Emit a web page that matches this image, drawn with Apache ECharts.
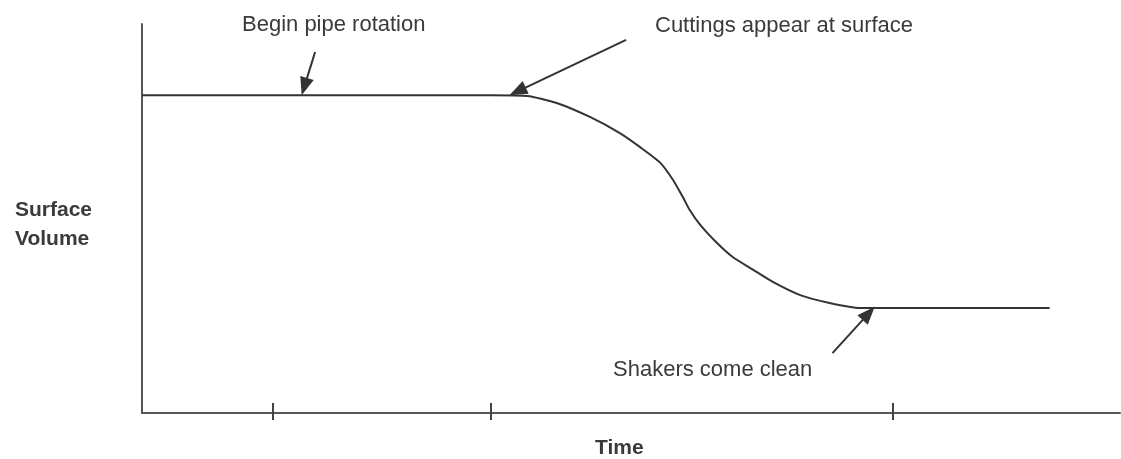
<!DOCTYPE html>
<html>
<head>
<meta charset="utf-8">
<style>
	html, body { margin: 0; padding: 0; background: #fff; }
	#chart { width: 1121px; height: 459px; }
</style>
<script src="https://cdn.jsdelivr.net/npm/echarts@6/dist/echarts.min.js"></script>
</head>
<body>
<div id="chart"></div>
<script>
//	曲线数据 (time, surface volume)
var timeX = [0, 16.2, 35.6, 39.4, 42.4, 45.8, 48.9, 50.9, 53.0, 54.3, 55.3, 56.0, 57.1, 58.8, 60.4, 62.5, 64.5, 67.3, 70.3, 73.4, 75.5, 92.8];
var volumeY = [81.7, 81.7, 81.7, 81.5, 79.7, 76.1, 71.9, 68.4, 64.3, 59.9, 55.5, 52.2, 48.3, 43.7, 40.1, 36.8, 33.7, 30.3, 28.3, 27.0, 27.0, 27.0];
//	x轴刻度
var tickValues = [13.4, 35.7, 76.8];
//	箭头 [起点, 箭头中心]
var arrowFrom = [[17.7, 92.8], [49.5, 95.9], [70.6, 15.4]];
var arrowTo = [[16.6, 83.9], [38.4, 82.7], [74.3, 25.6]];
var noteTexts = ['Begin pipe rotation', 'Cuttings appear at surface', 'Shakers come clean'];

var chart = echarts.init(document.getElementById('chart'));

var lineData = timeX.map(function(x, i) { return [x, volumeY[i]]; });
var arrowData = arrowFrom.map(function(p, i) {
	return [{ coord: p }, { coord: arrowTo[i] }];
});

var font = '"Liberation Sans", Arial, sans-serif';
var txtColor = '#3a3a3a';

var option = {
	animation: false,
	grid: {
		left: 142,
		right: 1,
		top: 24,
		bottom: 46
	},
	xAxis: [{
		type: 'value',
		min: 0,
		max: 100,
		axisLine: { show: true, lineStyle: { color: '#555', width: 2 } },
		axisTick: {
			show: true,
			customValues: tickValues,
			length: 7,
			lineStyle: { color: '#444', width: 2 }
		},
		axisLabel: { show: false },
		splitLine: { show: false }
	}, {
		type: 'value',
		position: 'bottom',
		min: 0,
		max: 100,
		axisLine: { show: false },
		axisTick: {
			show: true,
			inside: true,
			customValues: tickValues,
			length: 10,
			lineStyle: { color: '#444', width: 2 }
		},
		axisLabel: { show: false },
		splitLine: { show: false }
	}],
	yAxis: {
		type: 'value',
		min: 0,
		max: 100,
		axisLine: { show: true, lineStyle: { color: '#555', width: 2 } },
		axisTick: { show: false },
		axisLabel: { show: false },
		splitLine: { show: false }
	},
	series: [{
		type: 'line',
		data: lineData,
		smooth: 0.2,
		symbol: 'none',
		lineStyle: { color: '#333', width: 2, join: 'round' },
		markLine: {
			silent: true,
			symbol: ['none', 'triangle'],
			symbolSize: [14, 18],
			label: { show: false },
			lineStyle: { color: '#333', width: 2, type: 'solid' },
			data: arrowData
		}
	}],
	graphic: [
		{ type: 'text', left: 242, top: 14, style: { text: noteTexts[0], font: '22px ' + font, fill: txtColor } },
		{ type: 'text', left: 655, top: 15, style: { text: noteTexts[1], font: '22px ' + font, fill: txtColor } },
		{ type: 'text', left: 613, top: 359, style: { text: noteTexts[2], font: '22px ' + font, fill: txtColor } },
		{ type: 'text', left: 15, top: 196, style: { text: 'Surface\nVolume', font: 'bold 21px ' + font, fill: txtColor, lineHeight: 29 } },
		{ type: 'text', left: 595, top: 438, style: { text: 'Time', font: 'bold 21px ' + font, fill: txtColor } }
	]
};

chart.setOption(option);
</script>
</body>
</html>
